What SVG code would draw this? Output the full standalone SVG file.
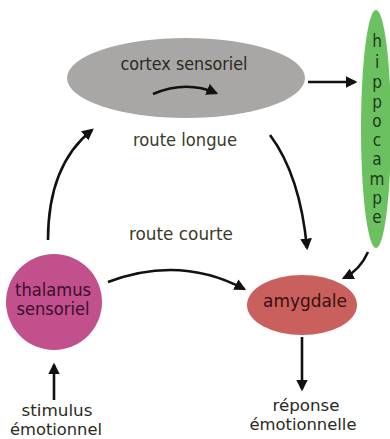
<svg xmlns="http://www.w3.org/2000/svg" width="390" height="439" viewBox="0 0 390 439">
<style>
text{font-family:"DejaVu Sans Condensed","DejaVu Sans","Noto Sans",sans-serif;font-size:18px;text-anchor:middle;fill:#2a2a22}
.c{fill:none;stroke:#111;stroke-width:2.6}
.lbl{fill:#3a3a28}
.s{font-size:16px}
.h{font-size:17px;fill:#1e3a1a}
</style>
<defs>
<marker id="ah" viewBox="0 0 10 10" refX="8" refY="5" markerWidth="4.5" markerHeight="4.5" orient="auto" markerUnits="strokeWidth">
<path d="M0,0 L10,5 L0,10 z" fill="#111"/>
</marker>
</defs>
<rect width="390" height="439" fill="#fff"/>
<g id="cortex">
<ellipse cx="186" cy="78" rx="119" ry="40" fill="#a9a7a5"/>
<text x="184" y="70" textLength="127" lengthAdjust="spacingAndGlyphs">cortex sensoriel</text>
<path class="c" d="M153,94 Q186,80 216,93" marker-end="url(#ah)"/>
</g>
<g id="hippocampe">
<ellipse cx="376" cy="129" rx="15" ry="119" fill="#6bc160"/>
<text class="h" x="377" y="47">h</text>
<text class="h" x="377" y="68">i</text>
<text class="h" x="377" y="88">p</text>
<text class="h" x="377" y="108">p</text>
<text class="h" x="377" y="127">o</text>
<text class="h" x="377" y="146">c</text>
<text class="h" x="377" y="165">a</text>
<text class="h" x="377" y="185">m</text>
<text class="h" x="377" y="204">p</text>
<text class="h" x="377" y="223">e</text>
</g>
<g id="thalamus">
<circle cx="54" cy="302" r="48" fill="#c2508d"/>
<text x="53" y="296" textLength="76" lengthAdjust="spacingAndGlyphs" style="fill:#3a0f2e">thalamus</text>
<text x="53" y="315" textLength="73" lengthAdjust="spacingAndGlyphs" style="fill:#3a0f2e">sensoriel</text>
</g>
<g id="amygdale">
<ellipse cx="302" cy="305" rx="55" ry="30" fill="#c9605d"/>
<text x="305" y="307" textLength="84" lengthAdjust="spacingAndGlyphs" style="fill:#3a0f10">amygdale</text>
</g>
<g id="labels">
<text class="lbl" x="185" y="146" textLength="104" lengthAdjust="spacingAndGlyphs">route longue</text>
<text class="lbl" x="181" y="240" textLength="104" lengthAdjust="spacingAndGlyphs">route courte</text>
<text class="s" x="57" y="416" textLength="71" lengthAdjust="spacingAndGlyphs">stimulus</text>
<text class="s" x="56" y="435" textLength="92" lengthAdjust="spacingAndGlyphs">émotionnel</text>
<text class="s" x="306" y="411" textLength="67" lengthAdjust="spacingAndGlyphs">réponse</text>
<text class="s" x="303" y="430" textLength="107" lengthAdjust="spacingAndGlyphs">émotionnelle</text>
</g>
<g id="connectors">
<path class="c" d="M308,82 L355,82" marker-end="url(#ah)"/>
<path class="c" d="M368,252 Q360,270 344,278" stroke-width="2" marker-end="url(#ah)"/>
<path class="c" d="M48,240 Q48,165 92,130" marker-end="url(#ah)"/>
<path class="c" d="M270,135 Q300,175 307,248" marker-end="url(#ah)"/>
<path class="c" d="M108,282 Q180,255 244,289" marker-end="url(#ah)"/>
<path class="c" d="M54,400 L54,365" marker-end="url(#ah)"/>
<path class="c" d="M302,337 L302,389" marker-end="url(#ah)"/>
</g>
</svg>
